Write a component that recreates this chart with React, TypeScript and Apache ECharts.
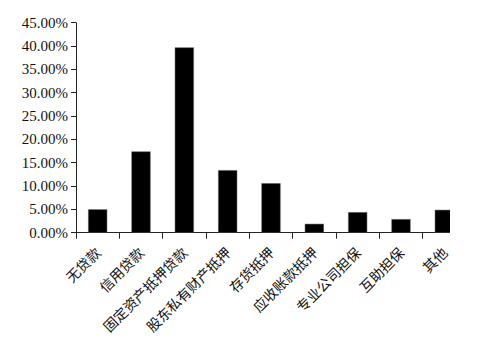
import React, { useEffect, useRef } from "react";
import * as echarts from "echarts";

const categories = [
  "无贷款",
  "信用贷款",
  "固定资产抵押贷款",
  "股东私有财产抵押",
  "存货抵押",
  "应收账款抵押",
  "专业公司担保",
  "互助担保",
  "其他",
];
const shares = [5.0, 17.4, 39.7, 13.4, 10.6, 1.9, 4.4, 2.9, 4.9];
const yMin = 0;
const yMax = 45;
const yStep = 5;

export default function App() {
  const ref = useRef<HTMLDivElement>(null);
  useEffect(() => {
    if (!ref.current) return;
    const chart = echarts.init(ref.current, null, { renderer: "svg" });
    chart.setOption({
      animation: false,
      backgroundColor: "#ffffff",
      grid: { left: 76, top: 22.7, right: 36, bottom: 122.3, containLabel: false },
      xAxis: {
        type: "category",
        data: categories,
        boundaryGap: true,
        axisLine: { lineStyle: { color: "#222", width: 1 } },
        axisTick: { show: true, length: 6, alignWithLabel: false, lineStyle: { color: "#222" } },
        axisLabel: {
          rotate: 45,
          interval: 0,
          margin: 17,
          color: "#111",
          fontSize: 14,
          fontFamily: "Noto Sans CJK SC",
        },
      },
      yAxis: {
        type: "value",
        min: yMin,
        max: yMax,
        interval: yStep,
        splitLine: { show: false },
        axisLine: { show: true, lineStyle: { color: "#222", width: 1 } },
        axisTick: { show: true, length: 5, lineStyle: { color: "#222" } },
        axisLabel: {
          margin: 8,
          color: "#111",
          fontSize: 15,
          fontFamily: "Liberation Serif",
          formatter: (v: number) => v.toFixed(2) + "%",
        },
      },
      series: [
        {
          type: "bar",
          data: shares,
          barWidth: "44%",
          itemStyle: { color: "#000", borderColor: "#555", borderWidth: 0.5 },
        },
      ],
      graphic: [
        {
          type: "rect",
          shape: { x: 450, y: 0, width: 52, height: 242 },
          style: { fill: "#ffffff" },
          z: 100,
        },
      ],
    });
    return () => chart.dispose();
  }, []);
  return (
    <div
      ref={ref}
      style={{ position: "fixed", left: 0, top: 0, width: 502, height: 355 }}
    />
  );
}
